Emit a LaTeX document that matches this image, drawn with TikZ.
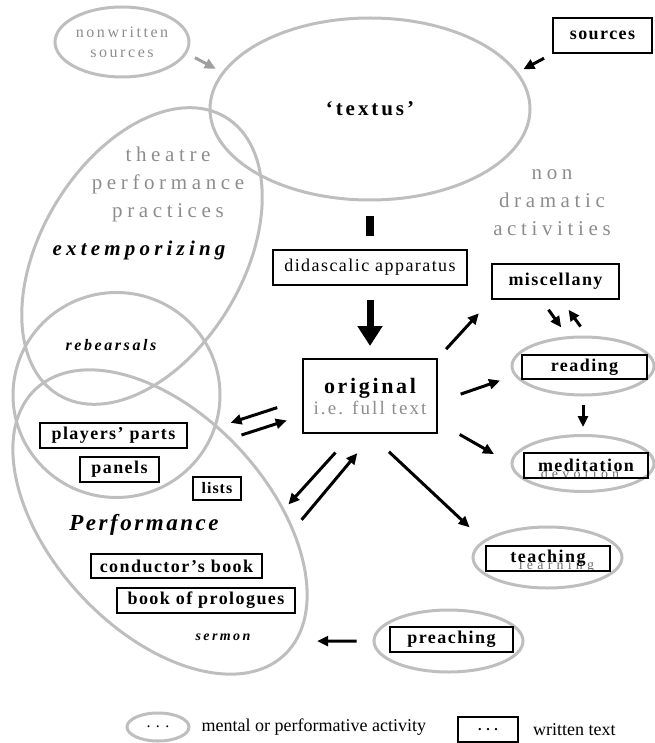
\documentclass[tikz,border=0pt]{standalone}
\usepackage{fontspec}
\setmainfont{Liberation Serif}
\usetikzlibrary{arrows.meta}
\usetikzlibrary{positioning}
\usetikzlibrary{shapes.geometric}
\definecolor{actgray}{RGB}{190,190,190}
\definecolor{txtgray}{RGB}{140,140,140}
\definecolor{subgray}{RGB}{110,110,110}
\newcommand{\lspace}[1]{\addfontfeatures{LetterSpace=#1}}
\tikzset {
  % written text
  wtext/.style = {
    draw = black,
    line width = 2pt,
    rectangle,
    inner sep = 0pt,
    minimum height = 25pt,
    font = \fontsize{18}{20}\selectfont\bfseries\lspace{8}
  },
  % mental or performative activity
  actv/.style = {
    draw = actgray,
    line width = 3pt,
    ellipse,
    inner sep = 0pt
  },
  graylabel/.style = {
    text = txtgray,
    align = center,
    inner sep = 0pt,
    font = \fontsize{21}{28}\selectfont\lspace{22}
  },
  bilabel/.style 2 args = {
    inner sep = 0pt,
    font = \fontsize{#1}{#1}\selectfont\bfseries\itshape\lspace{#2}
  },
  subtext/.style = {
    text = subgray,
    inner sep = 0pt,
    font = \fontsize{14}{14}\selectfont\lspace{30}
  },
  legtext/.style = {
    inner sep = 0pt,
    font = \fontsize{18}{20}\selectfont
  },
  arr/.style = {
    line width = 3pt,
    -{Triangle[length=11pt,width=10pt]}
  },
  bigarr/.style = {
    line width = 7pt,
    -{Triangle[length=20pt,width=24pt]}
  }
}

\begin{document}
\begin{tikzpicture}[x=1pt, y=-1pt]
  \useasboundingbox (0,0) rectangle (654,743);

  \node[actv, minimum width=134pt, minimum height=70pt] (nonwritten) at (122,42) {};
  \node[graylabel, font=\fontsize{16}{20}\selectfont\lspace{16}] (nonwritten-text) at (nonwritten) {nonwritten\\sources};
  \node[actv, minimum width=320pt, minimum height=182pt,
    font=\fontsize{21}{24}\selectfont\bfseries\lspace{14}] (textus) at (370,109) {‘textus’};
  \node[wtext, minimum width=99pt, minimum height=35pt] (sources) at (602.5,35.5) {sources};

  \node[actv, minimum width=324pt, minimum height=202pt, rotate=59] (theatre) at (142,256) {};
  \node[actv, minimum width=207pt, minimum height=205pt] (rehearsals) at (116.5,395) {};
  \node[actv, minimum width=364pt, minimum height=216pt, rotate=-47] (perf) at (160,522) {};

  \node[graylabel] (theatre-text) at (168,184) {theatre\\performance\\practices};
  \node[bilabel={21}{20}] (extemporizing) at (139,250) {extemporizing};
  \node[bilabel={16}{16}] (rehearsals-text) at (111,345) {rebearsals};
  \node[wtext, minimum width=147pt] (players) at (113.5,435.5) {players’ parts};
  \node[wtext, minimum width=79pt] (panels) at (119.5,469.5) {panels};
  \node[wtext, minimum width=48pt, minimum height=23pt,
    font=\fontsize{16}{18}\selectfont\bfseries\lspace{6}] (lists) at (217,488.5) {lists};
  \node[bilabel={23}{11}] (performance) at (144,525) {Performance};
  \node[wtext, minimum width=171pt, minimum height=24pt] (conductor) at (176.5,566) {conductor’s book};
  \node[wtext, minimum width=178pt] (prologues) at (206,600.5) {book of prologues};
  \node[bilabel={14}{17}] (sermon) at (223,637) {sermon};

  \node[wtext, minimum width=194pt, minimum height=35pt,
    font=\fontsize{18}{20}\selectfont\lspace{8}] (didasc) at (370,267.5) {didascalic apparatus};
  \node[wtext, minimum width=134pt, minimum height=74pt, align=center] (original) at (370,396)
    {{\fontsize{22}{26}\selectfont\lspace{12}original}\\[1pt]
     {\color{txtgray}\mdseries\fontsize{19}{22}\selectfont\lspace{11}i.e. full text}};

  \node[graylabel] (nondramatic) at (552,203) {non\\dramatic\\activities};
  \node[wtext, minimum width=127pt, minimum height=35pt] (miscellany) at (555.5,281.5) {miscellany};
  \node[actv, minimum width=142pt, minimum height=58pt] (readingact) at (583,366) {};
  \node[wtext, minimum width=125pt, minimum height=24pt] (reading) at (584.5,367) {reading};
  \node[actv, minimum width=142pt, minimum height=56pt] (meditationact) at (583,463.5) {};
  \node[subtext] (devotion) at ([xshift=-3pt,yshift=-10pt]meditationact.center) {devotion};
  \node[wtext, minimum width=124pt] (meditation) at (586,465.5) {meditation};
  \node[actv, minimum width=149pt, minimum height=61pt] (teachingact) at (547.5,557.5) {};
  \node[subtext] (learning) at ([xshift=9pt,yshift=-8.5pt]teachingact.center) {learning};
  \node[wtext, minimum width=124pt] (teaching) at (548,558.5) {teaching};
  \node[actv, minimum width=149pt, minimum height=62pt] (preachingact) at (448.5,641) {};
  \node[wtext, minimum width=123pt] (preaching) at (451.5,639.5) {preaching};

  \node[actv, minimum width=62pt, minimum height=28pt, font=\fontsize{16}{18}\selectfont] (legact) at (158,727) {. . .};
  \node[legtext, right=11pt of legact] (legact-text) {mental or performative activity};
  \node[wtext, minimum width=60pt, font=\fontsize{14}{16}\selectfont\bfseries] (legbox) at (488,729.5) {. . .};
  \node[legtext, right=14pt of legbox] (legbox-text) {written text};

  \draw[arr, draw=gray!75, shorten <=9pt, shorten >=7pt] (nonwritten.-10) -- (textus.166);
  \draw[arr, shorten <=9pt, shorten >=6pt] (sources.south west) -- (textus.14);
  \draw[line width=8pt, shorten <=15pt, shorten >=13pt] (textus.south) -- (didasc.north);
  \draw[bigarr, shorten <=14pt, shorten >=12pt] (didasc.south) -- (original.north);

  \draw[arr, shorten <=12pt, shorten >=18pt] (original.north east) -- (miscellany.south west);
  \draw[arr, shorten <=24pt, shorten >=15pt] (original.-5) -- (readingact.188);
  \draw[arr, shorten <=25pt, shorten >=19pt] (original.-21) -- (meditationact.west);
  \draw[arr, shorten <=26pt, shorten >=19pt] (original.south) -- (teachingact.165);
  \draw[arr, shorten <=12pt, shorten >=10pt] ([xshift=-14pt]miscellany.south) -- ([xshift=-16pt]readingact.north);
  \draw[arr, shorten <=11pt, shorten >=12pt] ([xshift=4pt]readingact.north) -- ([xshift=6pt]miscellany.south);
  \draw[arr, shorten <=8pt, shorten >=7pt] (readingact.south) -- (meditationact.north);

  \draw[arr, shorten <=26pt, shorten >=15pt] (original.183) -- (rehearsals.-18);
  \draw[arr, shorten <=35pt, shorten >=16pt] (rehearsals.-29) -- (original.196);
  \draw[arr, shorten <=25pt, shorten >=6pt] (original.245) -- (perf.53);
  \draw[arr, shorten <=12pt, shorten >=25pt] (perf.44) -- (original.275);
  \draw[arr, shorten <=16pt, shorten >=20pt] (preachingact.west) -- (perf.6);
\end{tikzpicture}
\end{document}
